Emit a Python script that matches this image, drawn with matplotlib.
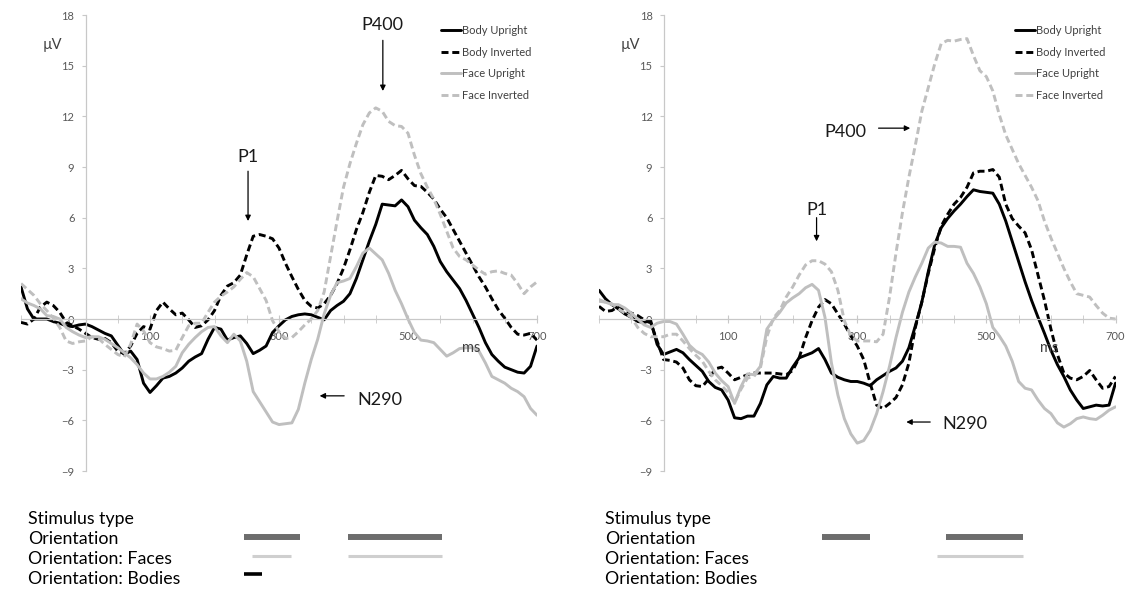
import matplotlib
matplotlib.use("Agg")
import matplotlib.pyplot as plt

plt.rcParams['font.family'] = ['Lato', 'DejaVu Sans']

# time axis (ms), one value every 10 ms
time_ms = list(range(-100, 701, 10))

# ---- left panel (uV) ----
body_up_left = [1.9, 0.6, 0.0, 0.0, 0.0, -0.15, -0.25, -0.4, -0.45, -0.35,
                -0.3, -0.45, -0.65, -0.85, -1.0, -1.55, -2.1, -1.9, -2.4, -3.8,
                -4.35, -3.95, -3.5, -3.4, -3.2, -2.9, -2.5, -2.25, -2.05, -1.2,
                -0.5, -0.6, -1.25, -1.1, -1.0, -1.45, -2.05, -1.85, -1.6, -0.8,
                -0.4, -0.05, 0.15, 0.25, 0.3, 0.25, 0.1, -0.05, 0.5, 0.8,
                1.05, 1.5, 2.4, 3.5, 4.6, 5.6, 6.8, 6.75, 6.7, 7.05,
                6.65, 5.85, 5.4, 5.0, 4.3, 3.4, 2.8, 2.3, 1.8, 1.1,
                0.3, -0.5, -1.4, -2.1, -2.5, -2.85, -3.0, -3.15, -3.2, -2.8,
                -1.6]
body_inv_left = [-0.2, -0.3, 0.0, 0.7, 1.0, 0.8, 0.4, -0.2, -0.4, -0.6,
                 -0.85, -1.1, -1.2, -1.15, -1.4, -1.9, -2.05, -1.6, -0.85, -0.45,
                 -0.6, 0.5, 1.0, 0.6, 0.25, 0.35, -0.05, -0.5, -0.4, -0.05,
                 0.5, 1.4, 1.95, 2.15, 2.6, 3.8, 4.9, 5.0, 4.9, 4.75,
                 4.2, 3.3, 2.5, 1.75, 1.1, 0.75, 0.65, 0.9, 1.4, 2.1,
                 3.0, 4.1, 5.3, 6.3, 7.5, 8.5, 8.45, 8.25, 8.5, 8.8,
                 8.3, 7.9, 7.85, 7.5, 7.1, 6.5, 6.0, 5.3, 4.6, 3.9,
                 3.2, 2.5, 1.9, 1.2, 0.55, 0.05, -0.5, -0.9, -0.95, -0.85,
                 -1.25]
face_up_left = [1.2, 0.95, 0.8, 0.6, 0.2, 0.15, 0.0, -0.5, -0.75, -0.95,
                -1.1, -1.05, -1.05, -1.2, -1.45, -1.7, -2.0, -2.3, -2.7, -3.2,
                -3.55, -3.55, -3.4, -3.15, -2.8, -2.0, -1.5, -1.1, -0.75, -0.5,
                -0.45, -1.0, -1.4, -0.9, -1.3, -2.5, -4.3, -4.9, -5.5, -6.1,
                -6.25, -6.2, -6.15, -5.35, -3.8, -2.4, -1.2, 0.3, 1.4, 2.15,
                2.25, 2.4, 3.1, 3.9, 4.2, 3.85, 3.5, 2.7, 1.7, 0.9,
                0.0, -0.8, -1.25, -1.3, -1.4, -1.8, -2.2, -2.0, -1.75, -1.7,
                -1.7, -1.9, -2.6, -3.4, -3.6, -3.8, -4.1, -4.3, -4.6, -5.3,
                -5.7]
face_inv_left = [2.1, 1.75, 1.4, 0.9, 0.5, 0.05, -0.5, -1.3, -1.45, -1.35,
                 -1.3, -1.05, -1.15, -1.5, -1.8, -2.1, -2.25, -1.5, -0.3, -0.7,
                 -1.4, -1.65, -1.75, -1.9, -1.85, -1.1, -0.4, -0.25, -0.25, 0.4,
                 1.0, 1.35, 1.6, 1.9, 2.35, 2.75, 2.5, 1.8, 1.1, -0.1,
                 -0.75, -1.15, -1.1, -0.75, -0.35, 0.0, 0.5, 1.6, 3.7, 5.8,
                 7.8, 9.2, 10.4, 11.5, 12.2, 12.5, 12.3, 11.7, 11.45, 11.4,
                 11.0, 9.7, 8.6, 7.8, 7.1, 6.2, 5.2, 4.2, 3.7, 3.5,
                 3.2, 2.9, 2.65, 2.8, 2.85, 2.7, 2.6, 2.1, 1.5, 1.9,
                 2.2]

# ---- right panel (uV) ----
body_up_right = [1.7, 1.2, 0.85, 0.6, 0.3, 0.1, -0.15, -0.2, -0.1, -1.5,
                 -2.1, -1.95, -1.8, -2.0, -2.4, -2.75, -3.1, -3.7, -4.05, -4.2,
                 -4.8, -5.85, -5.9, -5.75, -5.75, -5.0, -3.9, -3.4, -3.5, -3.5,
                 -2.85, -2.3, -2.15, -2.0, -1.75, -2.4, -3.2, -3.45, -3.6, -3.7,
                 -3.7, -3.8, -3.95, -3.6, -3.35, -3.1, -2.9, -2.5, -1.7, -0.4,
                 1.0, 2.8, 4.4, 5.4, 5.95, 6.4, 6.8, 7.25, 7.65, 7.55,
                 7.5, 7.45, 6.8, 5.8, 4.6, 3.4, 2.2, 1.1, 0.1, -0.85,
                 -1.85, -2.7, -3.4, -4.2, -4.8, -5.3, -5.2, -5.1, -5.15, -5.1,
                 -3.8]
body_inv_right = [0.75, 0.45, 0.5, 0.75, 0.5, 0.35, 0.2, -0.05, -0.2, -1.3,
                  -2.4, -2.45, -2.55, -2.9, -3.6, -3.95, -4.0, -3.55, -2.95, -2.85,
                  -3.2, -3.6, -3.45, -3.3, -3.2, -3.2, -3.2, -3.2, -3.25, -3.3,
                  -3.05, -2.3, -1.1, -0.1, 0.7, 1.15, 0.9, 0.3, -0.3, -1.0,
                  -1.6, -2.4, -3.8, -5.1, -5.3, -5.0, -4.65, -3.9, -2.6, -0.5,
                  1.0, 2.7, 4.2, 5.5, 6.2, 6.8, 7.2, 7.8, 8.65, 8.75,
                  8.75, 8.85, 8.4, 6.8, 5.95, 5.5, 5.1, 4.1, 2.6, 1.1,
                  -0.6, -2.1, -3.2, -3.5, -3.6, -3.4, -3.05, -3.6, -4.1, -4.0,
                  -3.4]
face_up_right = [1.15, 1.0, 0.85, 0.85, 0.65, 0.35, 0.0, -0.35, -0.5, -0.25,
                 -0.15, -0.15, -0.3, -0.9, -1.55, -1.9, -2.1, -2.55, -3.2, -3.65,
                 -4.0, -5.0, -4.0, -3.25, -3.3, -2.8, -0.6, -0.05, 0.4, 0.95,
                 1.25, 1.5, 1.85, 2.05, 1.7, 0.1, -2.6, -4.5, -5.9, -6.8,
                 -7.35, -7.2, -6.6, -5.6, -4.3, -2.8, -1.1, 0.4, 1.6, 2.5,
                 3.3, 4.2, 4.55, 4.5, 4.3, 4.3, 4.25, 3.3, 2.7, 1.9,
                 0.9, -0.5, -1.0, -1.6, -2.5, -3.7, -4.1, -4.2, -4.8, -5.3,
                 -5.6, -6.15, -6.4, -6.2, -5.9, -5.8, -5.9, -5.95, -5.7, -5.4,
                 -5.2]
face_inv_right = [1.05, 1.0, 0.9, 0.6, 0.35, 0.1, -0.5, -0.85, -1.05, -1.05,
                  -1.05, -0.9, -0.9, -1.3, -1.75, -2.15, -2.5, -3.1, -3.6, -3.95,
                  -4.35, -4.95, -4.15, -3.5, -3.4, -2.9, -1.05, 0.05, 0.5, 1.3,
                  1.9, 2.6, 3.2, 3.45, 3.45, 3.25, 2.8, 1.7, -0.1, -1.0,
                  -1.3, -1.3, -1.3, -1.35, -0.9, 1.3, 3.9, 6.3, 8.4, 10.3,
                  12.3, 13.7, 15.1, 16.3, 16.5, 16.45, 16.55, 16.6, 15.6, 14.7,
                  14.35, 13.5, 12.1, 10.9, 10.05, 9.2, 8.5, 7.8, 7.0, 5.8,
                  4.8, 3.9, 3.0, 2.2, 1.5, 1.4, 1.3, 0.8, 0.35, 0.05,
                  0.0]

series_names = ["Body Upright", "Body Inverted", "Face Upright", "Face Inverted"]

# significant windows (ms) for the rows under each plot
orient_left = [(245, 332), (407, 553)]
faces_left = [(258, 318), (407, 553)]
bodies_left = [(245, 273)]
orient_right = [(246, 320), (438, 557)]
faces_right = [(424, 557)]
bodies_right = []
row_labels = ["Stimulus type", "Orientation", "Orientation: Faces", "Orientation: Bodies"]

W, H = 1128, 596
fig = plt.figure(figsize=(W / 100, H / 100), dpi=100)


def box(x0, x1, ytop, ybot):
    return [x0 / W, 1 - ybot / H, (x1 - x0) / W, (ybot - ytop) / H]


AXIS = "#c8c8c8"
TXT = "#595959"
GRAY = "#bfbfbf"
styles = [dict(color="black", ls="-"),
          dict(color="black", ls=(0, (2.4, 1.3))),
          dict(color=GRAY, ls="-"),
          dict(color=GRAY, ls=(0, (2.4, 1.3)))]


def panel(x0, x1, data, leg_x, notes):
    ax = fig.add_axes(box(x0, x1, 15, 471))
    for vals, name, st in zip(data, series_names, styles):
        ax.plot(time_ms, vals, lw=2.1, label=name, solid_capstyle="round", **st)
    ax.set_xlim(-100, 700)
    ax.set_ylim(-9, 18)
    for s in ["top", "right"]:
        ax.spines[s].set_visible(False)
    for s in ["left", "bottom"]:
        ax.spines[s].set_position(("data", 0))
        ax.spines[s].set_color(AXIS)
        ax.spines[s].set_linewidth(0.9)
    ax.set_yticks(range(-9, 19, 3))
    ax.set_xticks([100, 300, 500, 700])
    ax.set_xticks(range(-100, 701, 50), minor=True)
    ax.tick_params(axis="y", length=3, color=AXIS, labelsize=8,
                   labelcolor=TXT, pad=5)
    ax.tick_params(axis="x", which="both", direction="inout", length=6,
                   color=AXIS, labelsize=8, labelcolor=TXT, pad=6)
    ax.text(-52, 16.2, "µV", fontsize=10.5, color="#404040", ha="center", va="center")
    ax.text(598, -1.7, "ms", fontsize=10.5, color="#404040", ha="center", va="center")
    leg = ax.legend(loc="upper left", bbox_to_anchor=(leg_x / W, 1 - 25 / H),
                    bbox_transform=fig.transFigure, frameon=False, fontsize=8,
                    handlelength=1.8, handletextpad=0.05, labelspacing=0.95,
                    borderpad=0, borderaxespad=0)
    for t in leg.get_texts():
        t.set_color("#404040")
    for label, (tx, ty), (ax0, ay0), (ax1, ay1) in notes:
        ax.text(tx, ty, label, fontsize=13, color="#1a1a1a", ha="center", va="center")
        ax.annotate("", xy=(ax1, ay1), xytext=(ax0, ay0),
                    arrowprops=dict(arrowstyle="-|>", color="black", lw=0.9,
                                    mutation_scale=8, shrinkA=0, shrinkB=0))
    return ax


def rows(x0, x1, text_x, orient, faces, bodies):
    bx = fig.add_axes(box(x0, x1, 509, 589))
    bx.set_xlim(-100, 700)
    bx.set_ylim(4, 0)
    bx.axis("off")
    for i, lab in enumerate(row_labels):
        fig.text(text_x / W, 1 - (509 + 20 * i + 10) / H, lab, fontsize=12.8,
                 color="black", ha="left", va="center")
    for a, b in orient:
        bx.hlines(1.4, a, b, color="#6d6d6d", lw=4.3)
    for a, b in faces:
        bx.hlines(2.35, a, b, color="#cfcfcf", lw=2.2)
    for a, b in bodies:
        bx.hlines(3.25, a, b, color="black", lw=2.6)


notes_left = [("P400", (461, 17.4), (461, 16.5), (461, 13.5)),
              ("P1", (252, 9.6), (252, 8.75), (252, 5.8)),
              ("N290", (457, -4.8), (401, -4.55), (363, -4.55))]
notes_right = [("P400", (281, 11.1), (333, 11.3), (382, 11.3)),
               ("P1", (237, 6.45), (237, 6.0), (237, 4.6)),
               ("N290", (467, -6.2), (413, -6.1), (376, -6.1))]

panel(21, 537, [body_up_left, body_inv_left, face_up_left, face_inv_left],
      441, notes_left)
panel(599, 1115.5, [body_up_right, body_inv_right, face_up_right, face_inv_right],
      1015, notes_right)
rows(21, 537, 28, orient_left, faces_left, bodies_left)
rows(599, 1115.5, 605, orient_right, faces_right, bodies_right)

fig.savefig("out.png", dpi=100, facecolor="white")
